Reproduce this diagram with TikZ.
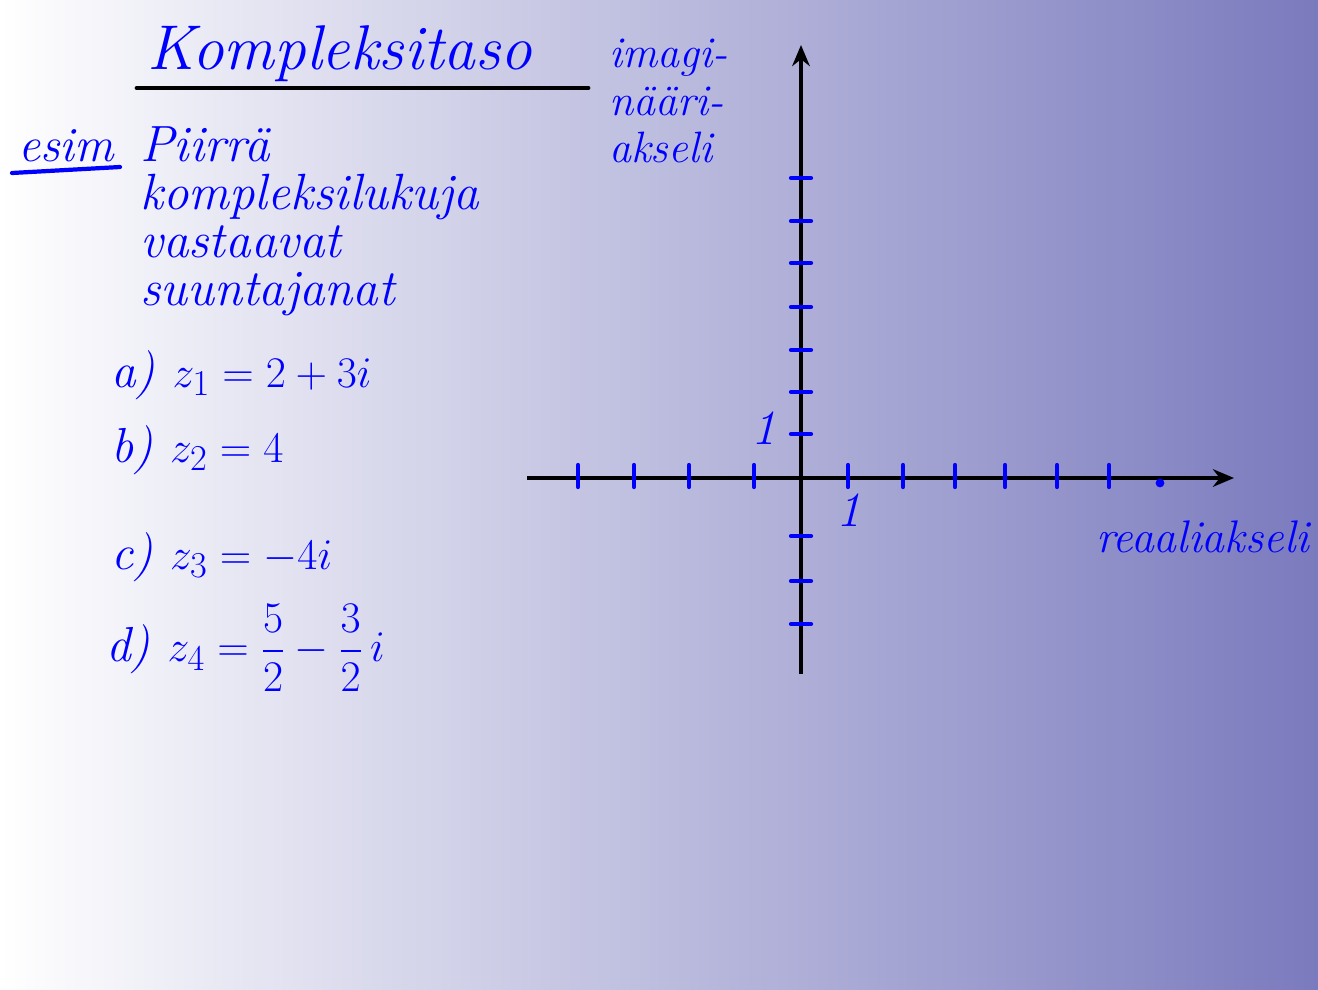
\documentclass[tikz,border=0pt]{standalone}
\usepackage{amsmath}
\usetikzlibrary{arrows.meta}
\tikzset{
    hand/.style={blue, font=\itshape\fontsize{28}{30}\selectfont},
    ink/.style={blue, line width=2.4pt, line cap=round},
    axis/.style={black, line width=2.4pt, -{Stealth[length=12pt, width=10pt]}}
}
\begin{document}
\begin{tikzpicture}[x=0.02cm, y=-0.02cm]
    % 背景
    \shade[left color=white, right color={rgb,255:red,122;green,122;blue,190}]
        (0,0) rectangle (1318,990);
    \useasboundingbox (0,0) rectangle (1318,990);

    % 标题
    \node[hand, font=\itshape\fontsize{36}{40}\selectfont] (title) at (340,54) {Kompleksitaso};
    \coordinate (titleL) at (137,88);
    \coordinate (titleR) at (588,88);
    \draw[black, line width=2.8pt, line cap=round] (titleL) -- (titleR);

    % 例题
    \node[hand] (esim) at (66,146) {esim};
    \coordinate (esimL) at (12,173);
    \coordinate (esimR) at (120,167);
    \draw[ink] (esimL) -- (esimR);
    \node[hand, anchor=north west, align=left, font=\itshape\fontsize{29}{27.5}\selectfont]
        (task) at (134,120) {Piirrä\\kompleksilukuja\\vastaavat\\suuntajanat};

    % 各小题
    \node[hand, anchor=west] (za) at (105,375) {a) $z_1 = 2 + 3i$};
    \node[hand, anchor=west] (zb) at (105,450) {b) $z_2 = 4$};
    \node[hand, anchor=west] (zc) at (105,557) {c) $z_3 = -4i$};
    \node[hand, anchor=west] (zd) at (100,648) {d) $\displaystyle z_4 = \frac{5}{2} - \frac{3}{2}\,i$};

    % 坐标轴
    \coordinate (O) at (801,478);
    \coordinate (xL) at (527,478);
    \coordinate (xR) at (1234,478);
    \coordinate (yB) at (801,674);
    \coordinate (yT) at (801,45);
    \draw[axis] (xL) -- (xR);
    \draw[axis] (yB) -- (yT);

    % 刻度
    \foreach \t in {578,634,689,754,848,903,955,1005,1057,1109}
        \draw[ink] (\t,465) -- (\t,487);
    \fill[blue] (1160,483) circle (2.5pt);
    \foreach \t in {178,221,263,307,350,392,434,536,581,624}
        \draw[ink] (791,\t) -- (811,\t);

    % 单位与轴名
    \node[hand] (one_y) at (764,428) {1};
    \node[hand] (one_x) at (849,510) {1};
    \node[hand, anchor=west, font=\itshape\fontsize{26}{28}\selectfont] (reaali) at (1090,537) {reaaliakseli};
    \node[hand, anchor=north west, align=left, font=\itshape\fontsize{25}{27}\selectfont]
        (imag) at (603,33) {imagi-\\nääri-\\akseli};
\end{tikzpicture}
\end{document}
